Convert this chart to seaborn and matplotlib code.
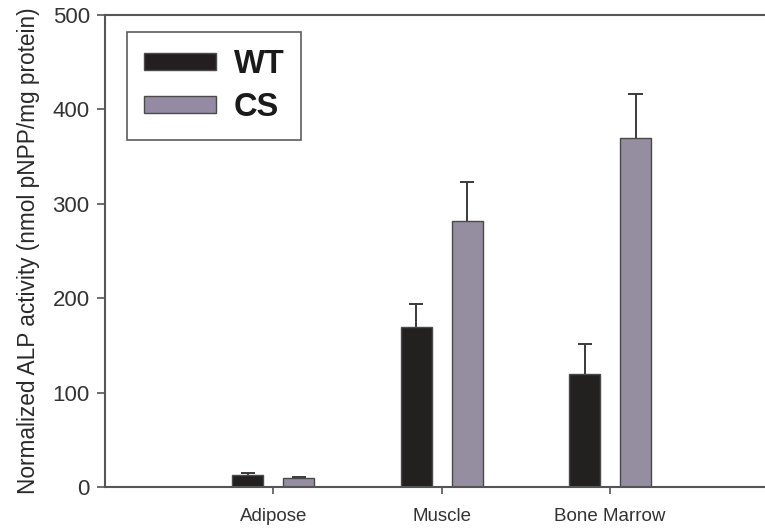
import matplotlib
matplotlib.use("Agg")
import matplotlib.pyplot as plt
import seaborn as sns
import pandas as pd
from matplotlib.patches import Patch

tissues = ["Adipose", "Muscle", "Bone Marrow"]
groups = ["WT", "CS"]
wt_means = [12.5, 169, 120]
wt_err = [2, 25, 32]
cs_means = [9.5, 282, 370]
cs_err = [1, 41, 46]
colors = {"WT": "#231f20", "CS": "#948aa3"}

df = pd.DataFrame({
    "tissue": tissues * 2,
    "group": ["WT"] * 3 + ["CS"] * 3,
    "value": wt_means + cs_means,
})
errs = {"WT": wt_err, "CS": cs_err}

sns.set_theme(style="white")
plt.rcParams["font.family"] = ["Liberation Sans", "DejaVu Sans"]

fig = plt.figure(figsize=(7.65, 5.29), dpi=100)
ax = fig.add_axes([105 / 765, 1 - 487 / 529, 1 - 105 / 765, (487 - 15) / 529])

sns.barplot(data=df, x="tissue", y="value", hue="group", order=tissues,
            hue_order=groups, palette=colors, width=0.605, gap=0.39,
            edgecolor="#4a4a4a", linewidth=1.0, errorbar=None, ax=ax,
            legend=False)
for p in ax.patches:
    p.set_zorder(3)

cap_half = 0.042
for cont, g in zip(ax.containers, groups):
    xs = [b.get_x() + b.get_width() / 2 for b in cont]
    ys = [b.get_height() for b in cont]
    tops = [y + e for y, e in zip(ys, errs[g])]
    ax.vlines(xs, ys, tops, colors="#3a3a3a", linewidth=1.4, zorder=2)
    ax.hlines(tops, [x - cap_half for x in xs], [x + cap_half for x in xs],
              colors="#3a3a3a", linewidth=1.4, zorder=2)

ax.set_xlim(-1, 2.92)
ax.set_ylim(0, 500)
ax.set_yticks([0, 100, 200, 300, 400, 500])
ax.set_xlabel("")
ax.set_ylabel("Normalized ALP activity (nmol pNPP/mg protein)",
              fontsize=16.3, color="#2a2a2a", labelpad=9)

for s in ["left", "bottom", "top"]:
    ax.spines[s].set_visible(True)
    ax.spines[s].set_color("#555555")
    ax.spines[s].set_linewidth(1.5)
    ax.spines[s].set_zorder(4)
ax.spines["right"].set_visible(False)

ax.tick_params(axis="both", which="major", direction="out", length=6,
               width=1.2, color="#555555", labelcolor="#333333",
               left=True, bottom=True)
ax.tick_params(axis="x", length=5, pad=10, labelsize=13.5)
ax.tick_params(axis="y", pad=5, labelsize=16)

handles = [Patch(facecolor=colors[g], edgecolor="#4a4a4a", linewidth=1.0, label=g)
           for g in groups]
leg = ax.legend(handles=handles, loc="upper left",
                bbox_to_anchor=((127 - 105) / 660, (487 - 32) / 472),
                borderaxespad=0, frameon=True, fancybox=False, shadow=False,
                prop={"weight": "bold", "size": 23.5}, handlelength=2.2,
                handleheight=0.42, handletextpad=0.55, labelspacing=0.36,
                borderpad=0.52)
leg.get_frame().set_edgecolor("#333333")
leg.get_frame().set_linewidth(1.2)
for t in leg.get_texts():
    t.set_color("#1a1a1a")

fig.savefig("out.png", dpi=100)
